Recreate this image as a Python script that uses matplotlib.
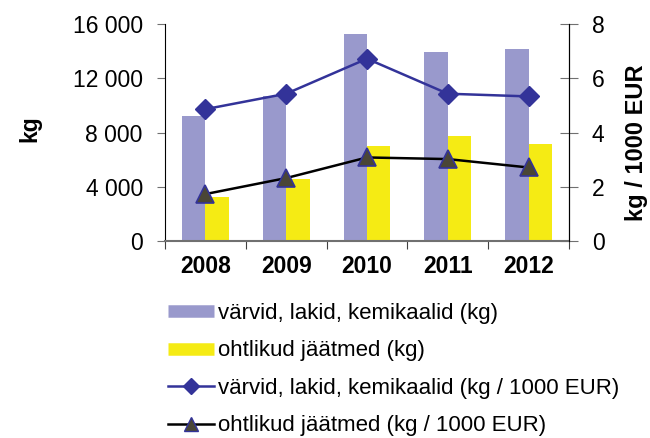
import numpy as np
import matplotlib
matplotlib.use("Agg")
import matplotlib.pyplot as plt
from matplotlib.lines import Line2D

plt.rcParams['font.family'] = ['Liberation Sans', 'DejaVu Sans']

years = ["2008", "2009", "2010", "2011", "2012"]
paint_kg = [9200, 10700, 15250, 13950, 14150]
hazard_kg = [3250, 4550, 7000, 7750, 7150]
paint_rel = [4.86, 5.43, 6.72, 5.43, 5.33]
hazard_rel = [1.73, 2.32, 3.08, 3.02, 2.71]

purple = '#9999CC'
yellow = '#F5EB14'
navy = '#333399'
olive = '#4A4636'

fig = plt.figure(figsize=(6.5, 4.38), dpi=100)
ax = fig.add_axes([165/650, 1-241/438, (569-165)/650, (241-24)/438])
ax2 = ax.twinx()

x = np.arange(len(years))
w = 0.29
ax.bar(x - w/2, paint_kg, w, color=purple, zorder=2)
ax.bar(x + w/2, hazard_kg, w, color=yellow, zorder=2)

ax2.plot(x, paint_rel, color=navy, lw=1.8, marker='D', ms=10, mfc=navy, mec=navy)
ax2.plot(x, hazard_rel, color='black', lw=1.8, marker='^', ms=13, mfc=olive, mec=navy, mew=1.2)

ax.set_xlim(-0.5, len(years) - 0.5)
ax.set_ylim(0, 16000)
ax2.set_ylim(0, 8)
ax.set_yticks([0, 4000, 8000, 12000, 16000])
ax.set_yticklabels(["0", "4 000", "8 000", "12 000", "16 000"], fontsize=16.5)
ax2.set_yticks([0, 2, 4, 6, 8])
ax2.set_yticklabels(["0", "2", "4", "6", "8"], fontsize=16.5)

# ticks between categories, year labels centred under the bars
ax.set_xticks(np.arange(-0.5, len(years)))
ax.set_xticklabels([])
ax.set_xticks(x, minor=True)
ax.set_xticklabels(years, minor=True, fontsize=16.5, fontweight='bold')
ax.tick_params(axis='x', which='major', direction='out', length=6, color='#404040')
ax.tick_params(axis='x', which='minor', length=0, pad=10)
ax.tick_params(axis='y', direction='out', length=6, color='#707070', pad=10)
ax2.tick_params(axis='y', direction='inout', length=13, color='#707070', pad=10)

for a in (ax, ax2):
    a.spines['top'].set_visible(False)
ax.spines['bottom'].set_color('#707070')
ax.spines['bottom'].set_linewidth(1.5)
ax2.spines['bottom'].set_visible(False)
ax2.spines['left'].set_visible(False)

fig.text(30/650, 1-129/438, "kg", rotation=90, fontsize=16.5, fontweight='bold', ha='center', va='center')
fig.text(637/650, 1-143/438, "kg / 1000 EUR", rotation=90, fontsize=17, fontweight='bold', ha='center', va='center')

handles = [
    Line2D([], [], color=purple, lw=9, solid_capstyle='butt'),
    Line2D([], [], color=yellow, lw=9, solid_capstyle='butt'),
    Line2D([], [], color=navy, lw=1.8, marker='D', ms=8, mfc=navy, mec=navy),
    Line2D([], [], color='black', lw=1.8, marker='^', ms=10, mfc=olive, mec=navy),
]
labels = ["värvid, lakid, kemikaalid (kg)", "ohtlikud jäätmed (kg)",
          "värvid, lakid, kemikaalid (kg / 1000 EUR)", "ohtlikud jäätmed (kg / 1000 EUR)"]
fig.legend(handles, labels, loc='upper left', bbox_to_anchor=(168/650, 1-303/438),
           frameon=False, fontsize=16, handlelength=2.05, handletextpad=0.2,
           labelspacing=0.74, borderpad=0, borderaxespad=0)

fig.savefig("out.png", dpi=100)
